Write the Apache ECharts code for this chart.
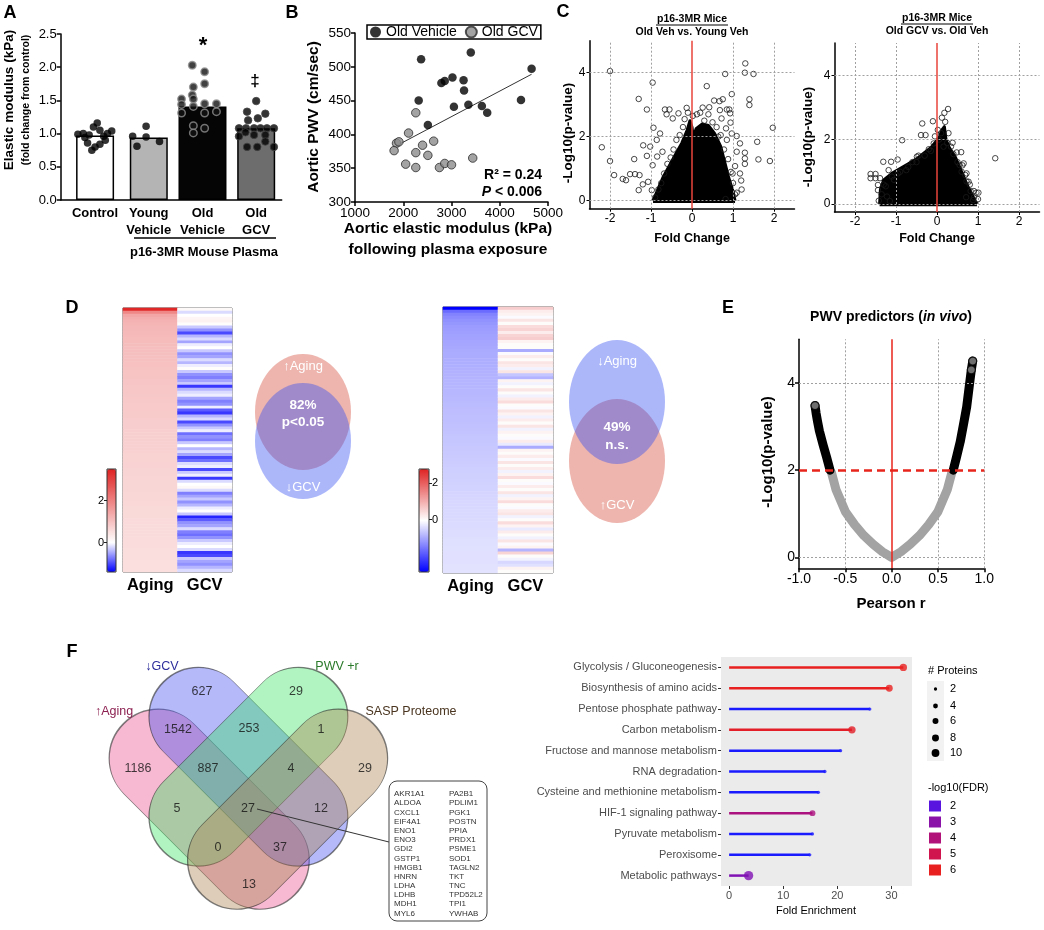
<!DOCTYPE html>
<html>
<head>
<meta charset="utf-8">
<script src="https://cdn.jsdelivr.net/npm/echarts@6.0.0/dist/echarts.min.js"></script>
<style>html,body{margin:0;padding:0;background:#fff;}#chart{width:1044px;height:930px;}</style>
</head>
<body>
<div id="chart"></div>
<script>
const FF = "'Liberation Sans', Arial, Helvetica, sans-serif";

/* ===================== DATA ===================== */
/* Panel A */
const aCategories = ['Control', 'Young\nVehicle', 'Old\nVehicle', 'Old\nGCV'];
const aBarMeans = [0.97, 0.94, 1.41, 1.08];
const aControl = [0.99, 1.00, 0.98, 1.10, 1.16, 1.05, 0.96, 1.00, 1.04, 0.86, 0.80, 0.75, 0.84, 0.90, 0.94];
const aControlJit = [-0.32, -0.22, -0.11, -0.03, 0.04, 0.09, 0.16, 0.23, 0.31, -0.14, 0.00, -0.06, 0.09, 0.19, -0.19];
const aYoung = [0.96, 0.81, 1.11, 0.95, 0.88];
const aYoungJit = [-0.30, -0.22, -0.05, -0.05, 0.20];
const aOldVeh = [2.03, 1.93, 1.75, 1.70, 1.58, 1.52, 1.52, 1.45, 1.44, 1.41, 1.45, 1.31, 1.31, 1.33, 1.12, 1.01, 1.08];
const aOldVehJit = [-0.19, 0.04, 0.04, -0.17, -0.19, -0.39, -0.17, 0.04, -0.39, -0.17, 0.26, -0.39, 0.04, 0.26, -0.17, -0.17, 0.04];
const aOldGcv = [1.49, 1.33, 1.30, 1.20, 1.23, 1.08, 1.08, 1.08, 1.08, 1.08, 1.08, 1.02, 0.98, 0.96, 0.98, 0.80, 0.80, 0.80, 0.88];
const aOldGcvJit = [0.00, -0.17, 0.17, -0.15, 0.03, -0.32, -0.19, -0.04, 0.08, 0.20, 0.33, -0.20, -0.04, -0.32, 0.17, -0.17, 0.02, 0.33, 0.17];

/* Panel B */
const bOldVehicle = [[2370,511],[3400,521],[4660,497],[2790,476],[2860,479],[3020,484],[3250,480],[3260,465],[2320,450],[3050,441],[3350,444],[3630,442],[3740,432],[4440,451],[2510,414]];
const bOldGCV = [[2260,432],[2110,402],[1860,387],[1910,389],[1810,376],[2400,384],[2630,390],[2260,373],[2510,369],[2050,356],[2260,351],[2750,351],[2860,357],[3000,355],[3440,365]];
const bFitLine = [[1880,384],[4660,489]];

/* Panel C */
const c1Cloud = [[-0.95,0.0],[-0.85,0.3],[-0.7,0.75],[-0.55,1.1],[-0.4,1.45],[-0.25,1.8],[-0.12,2.2],[-0.05,2.5],[0.0,2.3],[0.03,2.0],[0.1,2.25],[0.25,2.4],[0.4,2.35],[0.55,2.1],[0.7,1.7],[0.8,1.2],[0.9,0.7],[1.0,0.3],[1.05,0.0]];
const c1Points = [[-2.0,4.05],[-0.96,3.69],[-1.3,3.18],[-1.1,2.85],[-2.2,1.67],[-2.0,1.24],[-1.9,0.8],[-1.69,0.68],[-1.61,0.64],[-1.51,0.83],[-1.39,0.83],[-1.28,0.8],[-1.3,0.33],[-1.2,0.51],[-1.1,1.4],[-1.41,1.3],[-1.19,1.73],[-0.94,2.28],[-0.96,1.11],[-0.86,1.9],[-0.78,2.1],[-0.66,2.85],[-0.55,2.85],[-0.62,2.7],[-0.47,2.57],[-0.33,2.73],[-0.13,2.9],[-1.02,1.69],[-0.72,1.53],[-0.85,1.38],[-1.07,0.59],[-0.98,0.33],
  [0.81,3.96],[1.3,4.29],[1.29,4.0],[1.5,3.96],[0.36,3.58],[0.97,3.33],[1.4,3.17],[1.4,2.99],[1.97,2.28],[1.59,1.84],[1.9,1.24],[1.62,1.29],[1.29,1.32],[1.29,1.15],[1.29,1.5],[1.09,2.02],[1.17,1.79],[1.09,1.53],[1.05,1.08],[0.99,0.85],[1.17,0.85],[1.2,0.63],[1.21,0.35],[1.09,0.25],[0.75,3.17],[0.67,3.11],[0.54,3.13],[0.26,2.91],[0.42,2.92],[0.85,2.85],[0.93,2.73],[0.72,2.57],[0.94,2.44],[0.83,2.26],[0.97,2.1],[0.64,2.0],[0.85,1.9],[0.68,2.83],[0.91,2.85],
  [-0.9,0.1],[-0.82,0.35],[-0.75,0.55],[-0.68,0.85],[-0.6,1.15],[-0.52,1.35],[-0.45,1.6],[-0.38,1.9],[-0.3,2.05],[-0.22,2.3],[-0.18,2.55],[-0.1,2.75],[0.02,2.65],[0.12,2.7],[0.2,2.75],[0.3,2.5],[0.4,2.7],[0.5,2.45],[0.6,2.3],[0.7,2.05],[0.78,1.6],[0.88,1.3],[0.95,0.9],[1.0,0.55],[1.05,0.2],[0.82,0.05]];
const c2Cloud = [[-1.4,0.0],[-1.38,0.45],[-1.3,0.75],[-1.1,0.95],[-0.9,1.1],[-0.7,1.25],[-0.5,1.4],[-0.3,1.6],[-0.15,1.75],[-0.05,1.9],[0.05,2.05],[0.12,2.3],[0.18,2.4],[0.22,2.0],[0.3,1.75],[0.45,1.45],[0.55,1.15],[0.65,0.85],[0.75,0.55],[0.85,0.3],[0.95,0.05],[0.98,0.0]];
const c2Points = [[1.42,1.42],[0.27,2.95],[0.18,2.83],[0.12,2.68],[-0.1,2.57],[-0.36,2.5],[-0.85,1.98],[-0.39,2.14],[-0.28,2.14],[-0.08,1.88],[0.16,1.78],[0.34,1.78],[0.59,1.61],[0.65,1.26],[0.55,1.21],[0.69,0.9],[0.77,0.69],[0.96,0.35],[1.01,0.35],[0.88,0.12],[0.71,0.21],[-0.96,1.38],[-1.12,1.31],[-1.31,1.31],[-1.18,1.05],[-1.62,0.93],[-1.5,0.93],[-1.62,0.8],[-1.5,0.8],[-1.39,0.8],[-1.44,0.59],[-1.44,0.43],[-1.42,0.1],[-1.15,0.09],[-1.22,0.23],[-0.49,1.47],
  [-1.3,0.6],[-1.1,0.85],[-0.9,1.0],[-0.7,1.15],[-0.5,1.3],[-0.3,1.5],[-0.15,1.65],[0.05,2.0],[0.1,2.2],[0.25,1.9],[0.4,1.55],[0.5,1.3],[0.6,1.0],[0.72,0.7],[0.82,0.4],[0.9,0.2],
  [-1.35,0.3],[-1.25,0.55],[-1.05,0.75],[-0.95,0.95],[-0.75,1.05],[-0.6,1.3],[-0.45,1.5],[-0.2,1.7],[-0.05,2.1],[0.02,2.3],[0.2,2.55],[0.28,2.2],[0.38,1.9],[0.48,1.6],[0.62,1.2],[0.72,0.95],[0.8,0.6],[0.9,0.4],[1.0,0.15]];

/* Panel D */
const d1Aging = [3.4,1.9,1.45,1.3,1.22,1.18,1.15,1.13,1.11,1.09,1.07,1.06,1.05,1.04,1.03,1.02,1.01,1.0,0.99,0.98,0.97,0.96,0.95,0.94,0.93,0.92,0.91,0.9,0.89,0.88,0.87,0.86,0.85,0.84,0.84,0.83,0.82,0.81,0.8,0.8,0.79,0.78,0.77,0.77,0.76,0.75,0.74,0.74,0.73,0.72,0.72,0.71,0.7,0.7,0.69,0.68,0.68,0.67,0.66,0.66,0.65,0.65,0.64,0.63,0.63,0.62,0.62,0.61,0.61,0.6,0.6,0.59,0.59,0.58,0.58,0.57,0.57,0.56,0.56,0.55,0.55,0.54,0.54,0.53,0.53,0.52,0.52,0.51,0.51];
const d1Gcv = [0.1,-0.2,0.0,0.15,0.2,0.05,-0.3,-0.6,-1.0,-0.4,-0.2,-0.5,-0.1,0.0,-0.3,-0.6,-0.5,-0.2,-0.4,-0.1,0.05,-0.3,-0.6,-0.7,-0.5,-0.3,-1.1,-0.4,-0.2,-0.1,-0.5,-0.7,-0.6,-0.1,-0.9,-1.1,-0.4,-0.2,-1.0,-0.6,-0.3,-0.1,-0.8,-0.6,-0.7,-0.3,0.0,-0.4,-0.2,-0.5,-1.0,-0.8,-0.2,-0.1,-1.0,-0.3,-0.1,-1.1,-0.2,0.0,0.1,-0.2,-0.7,-0.5,-0.3,-0.6,-0.4,-0.1,0.0,-0.3,-1.2,-0.9,-0.6,-0.5,-0.2,-0.7,-0.8,-0.6,-0.3,-0.1,0.0,-0.2,-1.1,-1.0,-0.3,-0.5,-0.6,-0.4,-0.2];
const d2Aging = [-2.9,-1.7,-1.45,-1.35,-1.28,-1.22,-1.18,-1.15,-1.12,-1.1,-1.08,-1.06,-1.04,-1.02,-1.0,-0.99,-0.98,-0.96,-0.95,-0.94,-0.93,-0.92,-0.91,-0.9,-0.89,-0.88,-0.87,-0.86,-0.85,-0.84,-0.83,-0.82,-0.81,-0.8,-0.79,-0.78,-0.77,-0.76,-0.75,-0.74,-0.73,-0.72,-0.71,-0.7,-0.69,-0.68,-0.67,-0.66,-0.65,-0.64,-0.63,-0.62,-0.61,-0.6,-0.59,-0.58,-0.57,-0.56,-0.55,-0.54,-0.54,-0.53,-0.52,-0.51,-0.5,-0.5,-0.49,-0.48,-0.47,-0.47,-0.46,-0.45,-0.45,-0.44,-0.43,-0.43,-0.42,-0.41,-0.41,-0.4,-0.4,-0.39,-0.39,-0.38,-0.38,-0.37,-0.37,-0.36];
const d2Gcv = [0.6,0.2,0.1,-0.1,0.3,0.0,0.4,0.5,0.2,0.5,0.6,0.1,0.0,0.0,-1.0,-0.1,0.2,0.0,0.3,0.2,-0.2,0.3,-0.7,-0.9,0.1,-0.2,0.0,0.3,0.0,-0.2,0.2,0.4,0.0,-0.1,0.3,0.1,-0.2,0.2,0.0,0.3,-0.2,0.1,0.0,-0.1,0.2,-0.3,-1.0,0.1,0.0,0.2,-0.1,0.3,0.0,0.2,-0.2,0.1,0.4,0.0,-0.1,0.2,0.0,0.3,-0.2,0.1,0.4,0.0,-0.1,0.2,0.3,-0.2,0.0,0.4,0.1,-0.3,0.2,0.0,-0.2,0.3,-0.1,0.1,-0.9,0.5,0.0,-0.2,-0.5,-0.4,0.1,0.0];
const d1VennPct = ['82%', 'p<0.05'];
const d2VennPct = ['49%', 'n.s.'];

/* Panel E */
const eGrayCurve = [[-0.65,1.95],[-0.6,1.55],[-0.5,1.05],[-0.4,0.75],[-0.3,0.5],[-0.2,0.3],[-0.1,0.13],[0,0],[0.1,0.13],[0.2,0.3],[0.3,0.5],[0.4,0.75],[0.5,1.05],[0.6,1.55],[0.65,1.95]];
const eBlackLeft = [[-0.665,2.0],[-0.7,2.28],[-0.74,2.58],[-0.78,2.9],[-0.8,3.12],[-0.815,3.3],[-0.827,3.48]];
const eBlackRight = [[0.665,2.0],[0.7,2.3],[0.74,2.65],[0.78,3.1],[0.81,3.45],[0.845,4.05],[0.86,4.3],[0.875,4.5]];

/* Panel F */
const vennSets = ['↑Aging', '↓GCV', 'PWV +r', 'SASP Proteome'];
const vennCounts = [627, 29, 1542, 253, 1, 1186, 887, 4, 29, 5, 27, 12, 0, 37, 13];
const genesLeft = ['AKR1A1','ALDOA','CXCL1','EIF4A1','ENO1','ENO3','GDI2','GSTP1','HMGB1','HNRN','LDHA','LDHB','MDH1','MYL6'];
const genesRight = ['PA2B1','PDLIM1','PGK1','POSTN','PPIA','PRDX1','PSME1','SOD1','TAGLN2','TKT','TNC','TPD52L2','TPI1','YWHAB'];
const fPathways = ['Glycolysis / Gluconeogenesis','Biosynthesis of amino acids','Pentose phosphate pathway','Carbon metabolism','Fructose and mannose metabolism','RNA degradation','Cysteine and methionine metabolism','HIF-1 signaling pathway','Pyruvate metabolism','Peroxisome','Metabolic pathways'];
const fFold = [32.2, 29.6, 26.0, 22.7, 20.6, 17.7, 16.5, 15.4, 15.4, 14.9, 3.6];
const fProteins = [9, 8, 2, 9, 2, 2, 2, 6, 2, 2, 14];
const fFDR = [6.2, 6.0, 1.4, 5.8, 1.4, 1.4, 1.4, 3.9, 1.4, 1.4, 2.8];
const fSizeLegend = [2, 4, 6, 8, 10];
const fFdrLegend = [2, 3, 4, 5, 6];

/* ===================== LAYOUT / STYLE ===================== */
const option = {animation:false, backgroundColor:'#fff', textStyle:{fontFamily:FF}, grid:[], xAxis:[], yAxis:[], series:[], visualMap:[], graphic:{elements:[]}};
function addGrid(g){ option.grid.push(Object.assign({containLabel:false, outerBoundsMode:'none', show:false}, g)); return option.grid.length-1; }
function addX(a){ option.xAxis.push(a); return option.xAxis.length-1; }
function addY(a){ option.yAxis.push(a); return option.yAxis.length-1; }
function addS(s){ option.series.push(Object.assign({silent:true, animation:false}, s)); return option.series.length-1; }
const G = option.graphic.elements;
function txt(x, y, text, o){
  o = o || {};
  const al = o.align || 'center', va = o.va || 'middle';
  const st = {text:text, x:0, y:0, fill:o.color||'#000', align:al, textAlign:al, verticalAlign:va, textVerticalAlign:va,
    font:(o.italic?'italic ':'')+(o.bold?'bold ':'')+(o.size||12)+'px '+FF};
  if (o.rich) st.rich = o.rich;
  G.push({type:'text', x:x, y:y, rotation:o.rot||0, z:100, silent:true, style:st});
}
function line(x1,y1,x2,y2,color,w){ G.push({type:'line', z:100, silent:true, shape:{x1,y1,x2,y2}, style:{stroke:color||'#000', lineWidth:w||1}}); }
const blackLine = {show:true, onZero:false, lineStyle:{color:'#000', width:1.5}};
const noSplit = {show:false};

/* ---------- Panel A ---------- */
const gA = addGrid({left:60.7, top:34, width:221, height:166});
const xA = addX({gridIndex:gA, type:'value', min:0.36, max:4.475, axisLine:blackLine, axisTick:{show:false}, splitLine:noSplit,
  axisLabel:{customValues:[1,2,3,4], formatter:v=>aCategories[Math.round(v)-1]||'', color:'#000', fontSize:13, fontWeight:'bold', fontFamily:FF, lineHeight:17, margin:5}});
const xA2 = addX({gridIndex:gA, type:'value', min:0.36, max:4.475, show:false, splitLine:noSplit});
const yA = addY({gridIndex:gA, type:'value', min:0, max:2.5, interval:0.5, axisLine:blackLine, axisTick:{show:true, length:4, lineStyle:{color:'#000', width:1.5}}, splitLine:noSplit,
  axisLabel:{formatter:v=>v.toFixed(1), color:'#000', fontSize:13, fontFamily:FF, margin:4}});
addS({type:'bar', xAxisIndex:xA, yAxisIndex:yA, barWidth:38, itemStyle:{borderColor:'#000', borderWidth:1.5},
  data:[{value:[1,aBarMeans[0]], itemStyle:{color:'#ffffff'}}, {value:[2,aBarMeans[1]], itemStyle:{color:'#b4b4b4'}}, {value:[4,aBarMeans[3]], itemStyle:{color:'#6d6d6d'}}]});
addS({type:'bar', xAxisIndex:xA2, yAxisIndex:yA, barWidth:48, itemStyle:{borderColor:'#000', borderWidth:1.5},
  data:[{value:[3,aBarMeans[2]], itemStyle:{color:'#050505'}}]});
function aDots(vals, jit, pos, style){
  addS({type:'scatter', xAxisIndex:xA, yAxisIndex:yA, symbolSize:7.5, z:4, itemStyle:style, data:vals.map((v,i)=>[pos+jit[i], v])});
}
aDots(aControl, aControlJit, 1, {color:'#000'});
aDots(aYoung, aYoungJit, 2, {color:'#000'});
aDots(aOldVeh, aOldVehJit, 3, {color:'#111', borderColor:'#8f8f8f', borderWidth:1.5});
aDots(aOldGcv, aOldGcvJit, 4, {color:'#000', borderColor:'#444', borderWidth:1});
txt(10, 13, 'A', {bold:true, size:18});
txt(9, 100, 'Elastic modulus (kPa)', {bold:true, size:13.5, rot:Math.PI/2});
txt(26, 100, '(fold change from control)', {bold:true, size:10.5, rot:Math.PI/2});
txt(203, 46, '*', {bold:true, size:22});
txt(255, 81, '‡', {bold:true, size:17});
line(134, 238, 276, 238, '#000', 1.5);
txt(204, 252, 'p16-3MR Mouse Plasma', {bold:true, size:13});

/* ---------- Panel B ---------- */
const gB = addGrid({left:355, top:33, width:193, height:169});
const xB = addX({gridIndex:gB, type:'value', min:1000, max:5000, interval:1000, axisLine:blackLine, axisTick:{show:true, length:4, lineStyle:{color:'#000', width:1.5}}, splitLine:noSplit,
  axisLabel:{formatter:v=>String(v), color:'#000', fontSize:13.5, fontFamily:FF, margin:4}});
const yB = addY({gridIndex:gB, type:'value', min:300, max:550, interval:50, axisLine:blackLine, axisTick:{show:true, length:4, lineStyle:{color:'#000', width:1.5}}, splitLine:noSplit,
  axisLabel:{formatter:v=>String(v), color:'#000', fontSize:13.5, fontFamily:FF, margin:4}});
addS({type:'line', name:'fit', xAxisIndex:xB, yAxisIndex:yB, data:bFitLine, symbol:'none', lineStyle:{color:'#333', width:1}, z:2});
addS({type:'scatter', name:'Old Vehicle', xAxisIndex:xB, yAxisIndex:yB, data:bOldVehicle, symbolSize:8.5, itemStyle:{color:'#000'}, z:3});
addS({type:'scatter', name:'Old GCV', xAxisIndex:xB, yAxisIndex:yB, data:bOldGCV, symbolSize:8.5, itemStyle:{color:'#8c8c8c', borderColor:'#2a2a2a', borderWidth:1}, z:3});
option.legend = {data:['Old Vehicle','Old GCV'], left:367, top:25, orient:'horizontal', icon:'circle', itemWidth:11, itemHeight:11, itemGap:8,
  borderColor:'#000', borderWidth:1.5, padding:[0,3], textStyle:{fontSize:14, color:'#000', fontFamily:FF, lineHeight:13}, selectedMode:false};
txt(292, 13, 'B', {bold:true, size:18});
txt(314, 117, 'Aortic PWV (cm/sec)', {bold:true, size:15.5, rot:Math.PI/2});
txt(448, 229, 'Aortic elastic modulus (kPa)', {bold:true, size:15.5});
txt(448, 250, 'following plasma exposure', {bold:true, size:15.5});
txt(542, 175, 'R² = 0.24', {bold:true, size:14, align:'right'});
txt(542, 192, '{i|P}{b| < 0.006}', {align:'right', rich:{i:{fontSize:14, fontWeight:'bold', fontStyle:'italic', fontFamily:FF, fill:'#000'}, b:{fontSize:14, fontWeight:'bold', fontFamily:FF, fill:'#000'}}});

/* ---------- Panel C ---------- */
function volcano(left, top, width, height, cloud, pts){
  const g = addGrid({left, top, width, height});
  const x = addX({gridIndex:g, type:'value', min:-2.5, max:2.5, axisLine:blackLine, splitLine:noSplit,
    axisTick:{show:true, customValues:[-2,-1,0,1,2], length:3, lineStyle:{color:'#000'}},
    axisLabel:{customValues:[-2,-1,0,1,2], color:'#000', fontSize:12, fontFamily:FF, margin:4}});
  const y = addY({gridIndex:g, type:'value', min:-0.25, max:5, axisLine:blackLine, splitLine:noSplit,
    axisTick:{show:true, customValues:[0,2,4], length:3, lineStyle:{color:'#000'}},
    axisLabel:{customValues:[0,2,4], color:'#000', fontSize:12, fontFamily:FF, margin:4}});
  addS({type:'line', xAxisIndex:x, yAxisIndex:y, data:[[0,-1]], symbol:'none', lineStyle:{opacity:0}, z:1,
    markLine:{silent:true, symbol:['none','none'], label:{show:false}, lineStyle:{color:'#a0a0a0', type:[2,2], width:1},
      data:[{xAxis:-2},{xAxis:-1},{xAxis:1},{xAxis:2},{yAxis:0},{yAxis:2},{yAxis:4}]}});
  addS({type:'line', xAxisIndex:x, yAxisIndex:y, data:cloud, symbol:'none', lineStyle:{color:'#000', width:3, join:'round'}, areaStyle:{color:'#000', opacity:1, origin:-0.07}, z:2});
  addS({type:'scatter', xAxisIndex:x, yAxisIndex:y, data:pts, symbolSize:5.5, itemStyle:{color:'rgba(0,0,0,0)', borderColor:'#1a1a1a', borderWidth:1}, z:3});
  addS({type:'line', xAxisIndex:x, yAxisIndex:y, data:[[0,-1]], symbol:'none', lineStyle:{opacity:0}, z:6,
    markLine:{silent:true, symbol:['none','none'], label:{show:false}, lineStyle:{color:'#e8453c', type:'solid', width:1.5}, data:[{xAxis:0}]}});
}
volcano(589.5, 40.7, 205, 168, c1Cloud, c1Points);
volcano(834.5, 43, 205, 169, c2Cloud, c2Points);
txt(563, 12, 'C', {bold:true, size:18});
txt(692, 19, 'p16-3MR Mice', {bold:true, size:10.5});
line(656, 25, 728, 25, '#000', 1);
txt(692, 32, 'Old Veh vs. Young Veh', {bold:true, size:10.5});
txt(937, 18, 'p16-3MR Mice', {bold:true, size:10.5});
line(901, 24, 973, 24, '#000', 1);
txt(937, 31, 'Old GCV vs. Old Veh', {bold:true, size:10.5});
txt(568, 133, '-Log10(p-value)', {bold:true, size:13.5, rot:Math.PI/2});
txt(808, 137, '-Log10(p-value)', {bold:true, size:13.5, rot:Math.PI/2});
txt(692, 239, 'Fold Change', {bold:true, size:12.5});
txt(937, 239, 'Fold Change', {bold:true, size:12.5});

/* ---------- Panel D ---------- */
const leftStops = ['#0000ff','#8080ff','#ffffff','#f9d3d3','#f3a7a7','#ed7a7a','#e54e4e','#df2222'];
const rightStops = ['#0000ff','#ffffff','#df2222'];
function heatPanel(o){
  const n = Math.max(o.aging.length, o.gcv.length);
  const rows = Array.from({length:n}, (_, i) => String(i));
  const g = addGrid({left:o.left, top:o.top, width:o.width, height:o.height, show:true, borderColor:'#555', borderWidth:1, backgroundColor:'#fff'});
  const x = addX({gridIndex:g, type:'category', data:['Aging','GCV'], axisLine:{show:false}, axisTick:{show:false}, splitLine:noSplit,
    axisLabel:{interval:0, color:'#000', fontSize:16.5, fontWeight:'bold', fontFamily:FF, margin:5}});
  const y = addY({gridIndex:g, type:'category', data:rows, inverse:true, show:false});
  const data = [];
  o.aging.forEach((v,i)=>data.push([0,i,v]));
  o.gcv.forEach((v,i)=>data.push([1,i,v]));
  const si = addS({type:'heatmap', xAxisIndex:x, yAxisIndex:y, data:data, itemStyle:{borderWidth:0}, z:2});
  option.visualMap.push({type:'continuous', seriesIndex:si, min:o.min, max:o.max, inRange:{color:o.stops}, show:true,
    left:o.cbLeft, top:o.cbTop, itemWidth:o.cbWidth, itemHeight:o.cbHeight, calculable:false, padding:0, text:null, hoverLink:false, realtime:false});
  const gc = addGrid({left:o.cbLeft, top:o.cbTop, width:o.cbWidth, height:o.cbHeight, show:true, borderColor:'#333', borderWidth:1, backgroundColor:'transparent', z:10});
  addX({gridIndex:gc, type:'value', show:false, min:0, max:1});
  addY({gridIndex:gc, type:'value', min:o.min, max:o.max, position:o.cbSide, axisLine:{show:false, onZero:false}, splitLine:noSplit,
    axisTick:{show:true, customValues:[0,2], length:3, inside:false, lineStyle:{color:'#222'}},
    axisLabel:{customValues:[0,2], color:'#000', fontSize:11, fontFamily:FF, margin:3}, z:10});
}
heatPanel({left:123, top:308, width:109, height:264, aging:d1Aging, gcv:d1Gcv, min:-1.4, max:3.5, stops:leftStops, cbLeft:107, cbTop:469, cbWidth:9, cbHeight:103, cbSide:'left'});
heatPanel({left:443, top:307, width:110, height:266, aging:d2Aging, gcv:d2Gcv, min:-2.9, max:2.8, stops:rightStops, cbLeft:419, cbTop:469, cbWidth:10, cbHeight:103, cbSide:'right'});
txt(72, 308, 'D', {bold:true, size:18});

/* overlay coordinate system for the Venn diagrams */
const gO = addGrid({left:0, top:0, width:1044, height:930});
const xO = addX({gridIndex:gO, type:'value', min:0, max:1044, show:false, splitLine:noSplit});
const yO = addY({gridIndex:gO, type:'value', min:0, max:930, inverse:true, show:false, splitLine:noSplit});
const ellipsePath = 'path://M0,50A50,50 0 1 1 100,50A50,50 0 1 1 0,50Z';
const stadiumPath = 'path://M50,0L194,0A50,50 0 0 1 194,100L50,100A50,50 0 0 1 50,0Z';
const salmon = '#e8a29a', blueA = 'rgba(47,76,243,0.5)';
addS({type:'scatter', xAxisIndex:xO, yAxisIndex:yO, z:2, symbol:ellipsePath, data:[
  {value:[303,412], symbolSize:[96,116], itemStyle:{color:salmon}},
  {value:[303,441], symbolSize:[96,116], itemStyle:{color:blueA}},
  {value:[617,461], symbolSize:[96,124], itemStyle:{color:salmon}},
  {value:[617,402], symbolSize:[96,124], itemStyle:{color:blueA}}
]});
txt(303, 366, '↑Aging', {color:'#fff', size:13});
txt(303, 405, d1VennPct[0], {color:'#fff', size:13.5, bold:true});
txt(303, 422, d1VennPct[1], {color:'#fff', size:13.5, bold:true});
txt(303, 487, '↓GCV', {color:'#fff', size:13});
txt(617, 361, '↓Aging', {color:'#fff', size:13});
txt(617, 427, d2VennPct[0], {color:'#fff', size:13.5, bold:true});
txt(617, 445, d2VennPct[1], {color:'#fff', size:13.5, bold:true});
txt(617, 505, '↑GCV', {color:'#fff', size:13});

/* ---------- Panel E ---------- */
const gE = addGrid({left:799, top:339.3, width:185.3, height:229});
const xE = addX({gridIndex:gE, type:'value', min:-1, max:1, interval:0.5, axisLine:blackLine, splitLine:noSplit,
  axisTick:{show:true, length:4, lineStyle:{color:'#000', width:1.5}},
  axisLabel:{formatter:v=>v.toFixed(1), color:'#000', fontSize:14, fontFamily:FF, margin:4}});
const yE = addY({gridIndex:gE, type:'value', min:-0.25, max:5, axisLine:blackLine, splitLine:noSplit,
  axisTick:{show:true, customValues:[0,2,4], length:4, lineStyle:{color:'#000', width:1.5}},
  axisLabel:{customValues:[0,2,4], color:'#000', fontSize:14, fontFamily:FF, margin:4}});
addS({type:'line', xAxisIndex:xE, yAxisIndex:yE, data:[[0,-1]], symbol:'none', lineStyle:{opacity:0}, z:1,
  markLine:{silent:true, symbol:['none','none'], label:{show:false}, lineStyle:{color:'#a0a0a0', type:[2,2], width:1},
    data:[{xAxis:-0.5},{xAxis:0.5},{xAxis:1},{yAxis:0},{yAxis:4}]}});
addS({type:'line', xAxisIndex:xE, yAxisIndex:yE, data:eGrayCurve, symbol:'none', lineStyle:{color:'#a3a3a3', width:9, cap:'round', join:'round'}, z:2});
addS({type:'line', xAxisIndex:xE, yAxisIndex:yE, data:eBlackLeft, symbol:'none', lineStyle:{color:'#000', width:9, cap:'round', join:'round'}, z:3});
addS({type:'line', xAxisIndex:xE, yAxisIndex:yE, data:eBlackRight, symbol:'none', lineStyle:{color:'#000', width:9, cap:'round', join:'round'}, z:3});
addS({type:'scatter', xAxisIndex:xE, yAxisIndex:yE, data:[eBlackLeft[eBlackLeft.length-1], eBlackRight[eBlackRight.length-1], eBlackRight[eBlackRight.length-2]], symbolSize:8, itemStyle:{color:'#8a8a8a', borderColor:'#000', borderWidth:1.2}, z:4});
addS({type:'line', xAxisIndex:xE, yAxisIndex:yE, data:[[0,-1]], symbol:'none', lineStyle:{opacity:0}, z:6,
  markLine:{silent:true, symbol:['none','none'], label:{show:false},
    data:[{xAxis:0, lineStyle:{color:'#e8251c', type:'solid', width:1.5}}, {yAxis:2, lineStyle:{color:'#e8251c', type:[8,5], width:2.5}}]}});
txt(728, 308, 'E', {bold:true, size:18});
txt(891, 317, '{a|PWV predictors (}{i|in vivo}{a|)}', {rich:{a:{fontSize:14, fontWeight:'bold', fontFamily:FF, fill:'#000'}, i:{fontSize:14, fontWeight:'bold', fontStyle:'italic', fontFamily:FF, fill:'#000'}}});
txt(768, 452, '-Log10(p-value)', {bold:true, size:15, rot:Math.PI/2});
txt(891, 604, 'Pearson r', {bold:true, size:15});

/* ---------- Panel F : Venn ---------- */
const vennShapeLayout = [[209.2,809.2,242,-45,'rgba(232,80,140,0.5)'],[248.4,766.7,240,-45,'rgba(70,80,240,0.5)'],[248.4,766.7,240,45,'rgba(60,225,100,0.5)'],[287.6,809.2,242,45,'rgba(170,130,80,0.5)']];
addS({type:'scatter', xAxisIndex:xO, yAxisIndex:yO, z:2, symbol:stadiumPath,
  data:vennShapeLayout.map(s=>({value:[s[0],s[1]], symbolSize:[s[2],99], symbolRotate:s[3], itemStyle:{color:s[4], borderColor:'rgba(40,40,40,0.75)', borderWidth:1}}))});
const vennCountLayout = [[202,692],[296,692],[178,730],[249,729],[321,730],[138,769],[208,769],[291,769],[365,769],[177,809],[248,809],[321,809],[218,848],[280,848],[249,885]];
addS({type:'scatter', xAxisIndex:xO, yAxisIndex:yO, z:5, symbolSize:1, itemStyle:{color:'rgba(0,0,0,0)'},
  data:vennCountLayout.map(p=>p),
  label:{show:true, position:'inside', formatter:p=>String(vennCounts[p.dataIndex]), color:'#111', fontSize:12.5, fontFamily:FF}});
const vennLabelLayout = [[114,712,'#8c2050'],[162,667,'#2d2d9c'],[337,667,'#2b7a2b'],[411,712,'#4a3520']];
vennSets.forEach((s,i)=>txt(vennLabelLayout[i][0], vennLabelLayout[i][1], s, {color:vennLabelLayout[i][2], size:12.5}));
txt(72, 652, 'F', {bold:true, size:18});
line(257, 809, 389, 842, '#333', 1);
G.push({type:'rect', z:100, silent:true, shape:{x:389, y:781, width:98, height:140, r:8}, style:{fill:'#fff', stroke:'#444', lineWidth:1}});
genesLeft.forEach((g,i)=>txt(394, 794+i*9.19, g, {align:'left', size:8, color:'#333'}));
genesRight.forEach((g,i)=>txt(449, 794+i*9.19, g, {align:'left', size:8, color:'#333'}));

/* ---------- Panel F : lollipop ---------- */
const fdrStops = [[1.4,[26,26,255]],[2,[90,20,224]],[3,[138,18,168]],[4,[176,18,122]],[5,[208,21,78]],[6,[232,32,31]]];
function fdrColor(v){
  if (v <= fdrStops[0][0]) return 'rgb('+fdrStops[0][1].join(',')+')';
  for (let i=1;i<fdrStops.length;i++){
    if (v <= fdrStops[i][0]){
      const a=fdrStops[i-1], b=fdrStops[i], t=(v-a[0])/(b[0]-a[0]);
      return 'rgb('+a[1].map((c,k)=>Math.round(c+(b[1][k]-c)*t)).join(',')+')';
    }
  }
  return 'rgb('+fdrStops[fdrStops.length-1][1].join(',')+')';
}
function pSize(n){ return 2.6*Math.sqrt(n)-0.4; }
const gF = addGrid({left:721, top:657, width:191, height:229, show:true, backgroundColor:'#ebebeb', borderWidth:0});
const xF = addX({gridIndex:gF, type:'value', min:-1.5, max:33.8, axisLine:{show:false, onZero:false}, splitLine:noSplit,
  axisTick:{show:true, customValues:[0,10,20,30], length:3, lineStyle:{color:'#333'}},
  axisLabel:{customValues:[0,10,20,30], color:'#4d4d4d', fontSize:11, fontFamily:FF, margin:4}});
const yF = addY({gridIndex:gF, type:'category', data:fPathways, inverse:true, axisLine:{show:false, onZero:false}, splitLine:noSplit,
  axisTick:{show:true, length:3, alignWithLabel:true, lineStyle:{color:'#333'}},
  axisLabel:{interval:0, color:'#4d4d4d', fontSize:11, fontFamily:FF, margin:4}});
addS({type:'bar', xAxisIndex:xF, yAxisIndex:yF, barWidth:2.5, z:2, data:fFold.map((v,i)=>({value:v, itemStyle:{color:fdrColor(fFDR[i])}}))});
addS({type:'scatter', xAxisIndex:xF, yAxisIndex:yF, z:3, data:fFold.map((v,i)=>({value:[v,i], symbolSize:pSize(fProteins[i]), itemStyle:{color:fdrColor(fFDR[i])}}))});
txt(816, 911, 'Fold Enrichment', {size:11});
txt(928, 671, '# Proteins', {size:11, align:'left'});
G.push({type:'rect', z:99, silent:true, shape:{x:927, y:681, width:17, height:80}, style:{fill:'#f2f2f2'}});
const sizeLegendY = [689, 706, 721, 738, 753];
fSizeLegend.forEach((n,i)=>{
  G.push({type:'circle', z:100, silent:true, shape:{cx:935.5, cy:sizeLegendY[i], r:pSize(n)/2}, style:{fill:'#000'}});
  txt(950, sizeLegendY[i], String(n), {size:11, align:'left'});
});
txt(928, 788, '-log10(FDR)', {size:11, align:'left'});
const fdrLegendY = [806, 822, 838, 854, 870];
fFdrLegend.forEach((v,i)=>{
  G.push({type:'rect', z:100, silent:true, shape:{x:929, y:fdrLegendY[i]-5.5, width:12, height:11}, style:{fill:fdrColor(v)}});
  txt(950, fdrLegendY[i], String(v), {size:11, align:'left'});
});

const chart = echarts.init(document.getElementById('chart'), null, {renderer:'canvas', width:1044, height:930});
chart.setOption(option);
</script>
</body>
</html>
